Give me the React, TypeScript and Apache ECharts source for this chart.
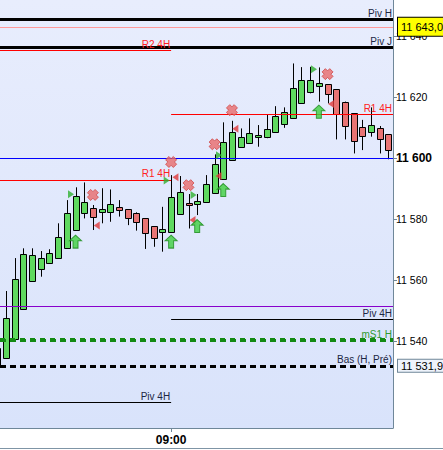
import React, { useEffect, useRef } from "react";
import * as echarts from "echarts";

// ---- candles (index 0 is the partly hidden candle at the left edge) ----
const candleIndex = [
  0, 1, 2, 3, 4, 5, 6, 7, 8, 9, 10, 11, 12, 13, 14, 15, 16, 17, 18, 19, 20, 21, 22,
  23, 24, 25, 26, 27, 28, 29, 30, 31, 32, 33, 34, 35, 36, 37, 38, 39, 40, 41, 42, 43,
  44, 45,
];
const openV = [
  11531.6, 11534.3, 11540.8, 11550.4, 11559.6, 11563.7, 11565.5, 11567.1, 11570.4,
  11576.3, 11581.9, 11583.5, 11582.2, 11582.4, 11583.8, 11583.2, 11581.9, 11580.2,
  11577.6, 11575.6, 11575.8, 11581.5, 11585.1, 11584.8, 11585.5, 11588.4, 11593.0,
  11599.3, 11603.7, 11605.0, 11606.8, 11607.0, 11608.4, 11611.0, 11613.0, 11617.9,
  11621.7, 11623.5, 11624.2, 11622.5, 11618.5, 11614.7, 11610.1, 11608.4, 11609.7,
  11607.8,
];
const closeV = [
  11537.7, 11547.4, 11560.2, 11568.4, 11568.2, 11567.1, 11568.8, 11574.0, 11581.9,
  11587.4, 11585.5, 11580.6, 11583.2, 11584.8, 11582.9, 11580.2, 11578.9, 11575.3,
  11573.7, 11576.6, 11587.1, 11588.8, 11584.5, 11586.0, 11591.4, 11597.9, 11605.1,
  11608.4, 11606.8, 11608.1, 11607.4, 11609.4, 11613.7, 11615.0, 11622.9, 11625.5,
  11625.5, 11624.5, 11620.9, 11614.3, 11610.5, 11605.6, 11607.2, 11610.7, 11606.1,
  11602.6,
];
const lowV = [
  11531.4, 11534.2, 11540.8, 11550.4, 11559.6, 11561.1, 11565.5, 11567.1, 11570.4,
  11576.3, 11580.2, 11576.4, 11578.6, 11579.1, 11580.8, 11578.0, 11576.2, 11570.2,
  11570.9, 11569.3, 11575.8, 11581.5, 11576.9, 11581.3, 11585.5, 11588.4, 11593.0,
  11599.3, 11603.7, 11605.0, 11603.7, 11606.5, 11608.4, 11609.9, 11613.0, 11617.9,
  11621.2, 11618.5, 11617.9, 11606.1, 11606.1, 11601.5, 11602.6, 11607.0, 11601.5,
  11599.6,
];
const highV = [
  11537.7, 11556.4, 11567.2, 11570.4, 11570.4, 11569.5, 11570.1, 11578.6, 11586.2,
  11590.4, 11592.0, 11584.6, 11590.1, 11589.7, 11586.2, 11583.2, 11582.2, 11580.2,
  11577.6, 11584.0, 11594.4, 11594.1, 11588.2, 11588.2, 11594.4, 11601.2, 11611.7,
  11612.2, 11609.7, 11613.0, 11610.8, 11614.1, 11617.0, 11616.6, 11631.0, 11629.8,
  11629.9, 11629.7, 11624.2, 11622.5, 11618.5, 11614.7, 11612.5, 11616.6, 11610.5,
  11607.8,
];

// ---- signal markers ----
const crossX = [11, 20, 22, 25, 27, 38];
const crossY = [11587.9, 11598.7, 11591.1, 11604.5, 11615.7, 11627.5];
const buyTriX = [8.48, 19.49, 22.58, 25.51, 36.44];
const buyTriY = [11588.1, 11592.6, 11587.9, 11600.9, 11629.1];
const sellTriX = [11.44, 20.5, 22.46, 25.45, 27.39, 38.4];
const sellTriY = [11577.9, 11593.7, 11579.7, 11594.1, 11609.6, 11617.7];
const arrowX = [9, 20, 23, 26, 37];
const arrowY = [11572.6, 11572.6, 11577.7, 11589.5, 11615.2];

// ---- levels ----
const levelNames = [
  "Piv H", "", "Piv J", "R2 4H", "R1 4H", "", "R1 4H", "", "Piv 4H",
  "mS1 H", "", "Bas (H, Pré)", "", "Piv 4H",
];
const levelValues = [
  11645.5, 11643.0, 11636.2, 11635.3, 11614.4, 11600.0, 11592.8, 11551.4, 11547.1,
  11540.3, 11540.6, 11531.9, 11531.6, 11519.8,
];
// segment start / end on the candle index axis (null = whole width)
const levelFrom = [null, null, null, 0.31, 20, null, 0.31, null, 20, null, null, null, null, 0.31];
const levelTo = [null, null, null, 20, 45.53, null, 20, null, 45.53, null, null, null, null, 20];
const levelKinds = [
  "pivot", "price", "pivot", "res", "res", "blue", "res", "purple", "thin",
  "support", "support2", "base", "base2", "thin",
];

// ---- axes ----
const xMin = 0.31;
const xMax = 45.53;
const xTickValues = [20];
const xTickLabels = ["09:00"];
const yMin = 11511.5;
const yMax = 11651.8;
const yTickValues = [11540, 11560, 11580, 11600, 11620, 11640];
const yBoldValue = 11600;
const tagValues = [11643.0, 11531.9];
const tagTexts = ["11 643,0", "11 531,9"];

const FONT = "'Liberation Sans', Arial, sans-serif";

function fmtThousands(v: number): string {
  const t = Math.floor(v / 1000);
  const r = Math.round(v - t * 1000);
  return `${t} ${String(r).padStart(3, "0")}`;
}

const kindStyle: Record<string, any> = {
  pivot: { line: { color: "#000000", width: 3, type: "solid" }, text: "#1c2743" },
  price: { line: { color: "#ff9a9a", width: 1, type: "solid" }, text: "#000" },
  res: { line: { color: "#ff0000", width: 1, type: "solid" }, text: "#ff2222" },
  blue: { line: { color: "#0000ff", width: 1, type: "solid" }, text: "#000" },
  purple: { line: { color: "#8800cc", width: 1, type: "solid" }, text: "#000" },
  thin: { line: { color: "#000000", width: 1, type: "solid" }, text: "#1c2743" },
  support: { line: { color: "#138a13", width: 3, type: [6, 4] }, text: "#2f9a2f" },
  support2: { line: { color: "#138a13", width: 3, type: [5, 5] }, text: "#2f9a2f" },
  base: { line: { color: "#000000", width: 3, type: [6, 4] }, text: "#1c2743" },
  base2: { line: { color: "#000000", width: 3, type: [5, 5] }, text: "#1c2743" },
};

export default function App() {
  const ref = useRef<HTMLDivElement>(null);

  useEffect(() => {
    document.body.style.margin = "0";
    if (!ref.current) return;
    const chart = echarts.init(ref.current, undefined, { renderer: "svg" });

    const markData: any[] = [];
    levelValues.forEach((v, i) => {
      const ks = kindStyle[levelKinds[i]];
      const label = levelNames[i]
        ? {
            show: true,
            position: "insideEndTop",
            formatter: levelNames[i],
            color: ks.text,
            fontSize: 10,
            fontFamily: FONT,
            distance: [1, 1],
          }
        : { show: false };
      const lineStyle = { color: ks.line.color, width: ks.line.width, type: ks.line.type, opacity: 1 };
      if (levelFrom[i] === null) {
        markData.push({ yAxis: v, lineStyle, label });
      } else {
        markData.push([
          { coord: [levelFrom[i], v], lineStyle, label },
          { coord: [levelTo[i], v] },
        ]);
      }
    });
    tagValues.forEach((v, i) => {
      markData.push({
        yAxis: v,
        lineStyle: { color: "rgba(0,0,0,0)", width: 1, type: "solid", opacity: 1 },
        label: {
          show: true,
          position: "end",
          distance: 5,
          formatter: tagTexts[i],
          fontSize: 11,
          fontFamily: FONT,
          color: "#000",
          opacity: 1,
          backgroundColor: i === 0 ? "#ffff00" : "#eef3fb",
          borderColor: i === 0 ? "#000000" : "#6f8799",
          borderWidth: 1,
          padding: i === 0 ? [4, 6, 3, 3] : [1, 6, 0, 3],
        },
      });
    });

    const candleData = candleIndex.map((x, i) => [x, openV[i], closeV[i], lowV[i], highV[i]]);

    const renderItem = (params: any, api: any) => {
      const x = api.value(0);
      const o = api.value(1);
      const c = api.value(2);
      const l = api.value(3);
      const h = api.value(4);
      const pO = api.coord([x, o]);
      const pC = api.coord([x, c]);
      const pL = api.coord([x, l]);
      const pH = api.coord([x, h]);
      const cx = Math.round(pO[0]);
      const top = Math.round(Math.min(pO[1], pC[1]));
      const bot = Math.round(Math.max(pO[1], pC[1]));
      const up = c >= o;
      return {
        type: "group",
        children: [
          {
            type: "line",
            shape: { x1: cx + 0.5, y1: pH[1], x2: cx + 0.5, y2: pL[1] },
            style: { stroke: "#000", lineWidth: 1 },
          },
          {
            type: "rect",
            shape: { x: cx - 2.5, y: top + 0.5, width: 6, height: Math.max(bot - top, 2) },
            style: { fill: up ? "#5fd95f" : "#e87474", stroke: "#000", lineWidth: 1 },
          },
        ],
      };
    };

    const option: any = {
      animation: false,
      backgroundColor: "#ffffff",
      textStyle: { fontFamily: FONT },
      grid: {
        left: 0,
        right: 50,
        top: 0,
        bottom: 22,
        show: true,
        borderWidth: 0,
        backgroundColor: new echarts.graphic.LinearGradient(0, 0, 0, 1, [
          { offset: 0, color: "#e8edfd" },
          { offset: 1, color: "#d9e3fb" },
        ]),
      },
      xAxis: {
        type: "value",
        min: xMin,
        max: xMax,
        splitLine: { show: false },
        axisLine: { show: true, onZero: false, lineStyle: { color: "#6f8799", width: 1 } },
        axisTick: { show: true, customValues: xTickValues, length: 4, lineStyle: { color: "#6f8799" } },
        axisLabel: {
          show: true,
          customValues: xTickValues,
          formatter: (v: number) => xTickLabels[xTickValues.indexOf(Math.round(v))] || "",
          fontWeight: "bold",
          fontSize: 12,
          color: "#000",
          fontFamily: FONT,
          margin: 6,
        },
      },
      yAxis: {
        type: "value",
        position: "right",
        min: yMin,
        max: yMax,
        splitLine: { show: false },
        axisLine: { show: true, lineStyle: { color: "#6f8799", width: 1 } },
        axisTick: { show: true, customValues: yTickValues, length: 4, lineStyle: { color: "#6f8799" } },
        axisLabel: {
          show: true,
          customValues: yTickValues,
          margin: 3,
          fontSize: 10.5,
          color: "#000",
          fontFamily: FONT,
          formatter: (v: number) => {
            const s = fmtThousands(v);
            return Math.round(v) === yBoldValue ? `{b|${s}}` : s;
          },
          rich: { b: { fontWeight: "bold", fontSize: 12, color: "#000", fontFamily: FONT } },
        },
      },
      graphic: [
        {
          type: "rect",
          shape: { x: 0, y: 448, width: 443, height: 1 },
          style: { fill: "#7f95a6" },
          silent: true,
        },
      ],
      series: [
        {
          type: "custom",
          z: 2,
          clip: true,
          data: candleData,
          encode: { x: 0, y: [1, 2, 3, 4] },
          renderItem,
        },
        {
          type: "line",
          z: 3,
          data: [],
          silent: true,
          markLine: {
            silent: true,
            symbol: ["none", "none"],
            animation: false,
            data: markData,
          },
        },
        {
          type: "scatter",
          z: 5,
          silent: true,
          symbol: "path://M0,3L3,0L5,2L7,0L10,3L8,5L10,7L7,10L5,8L3,10L0,7L2,5Z",
          symbolSize: [11, 11],
          itemStyle: { color: "#e86a6a", borderColor: "#d04848", borderWidth: 1 },
          data: crossX.map((x, i) => [x, crossY[i]]),
        },
        {
          type: "scatter",
          z: 5,
          silent: true,
          symbol: "path://M0,0L10,5L0,10Z",
          symbolSize: [6, 8],
          itemStyle: { color: "#2fb02f" },
          data: buyTriX.map((x, i) => [x, buyTriY[i]]),
        },
        {
          type: "scatter",
          z: 5,
          silent: true,
          symbol: "path://M10,0L0,5L10,10Z",
          symbolSize: [6, 8],
          itemStyle: { color: "#e03a3a" },
          data: sellTriX.map((x, i) => [x, sellTriY[i]]),
        },
        {
          type: "scatter",
          z: 5,
          silent: true,
          symbol: "path://M6,0L12,6L8.5,6L8.5,14L3.5,14L3.5,6L0,6Z",
          symbolSize: [12, 13],
          itemStyle: { color: "#3fcf3f", borderColor: "#1a8a1a", borderWidth: 1 },
          data: arrowX.map((x, i) => [x, arrowY[i]]),
        },
      ],
    };

    chart.setOption(option);
    return () => chart.dispose();
  }, []);

  return (
    <div
      ref={ref}
      style={{ position: "absolute", left: 0, top: 0, width: 443, height: 450 }}
    />
  );
}
